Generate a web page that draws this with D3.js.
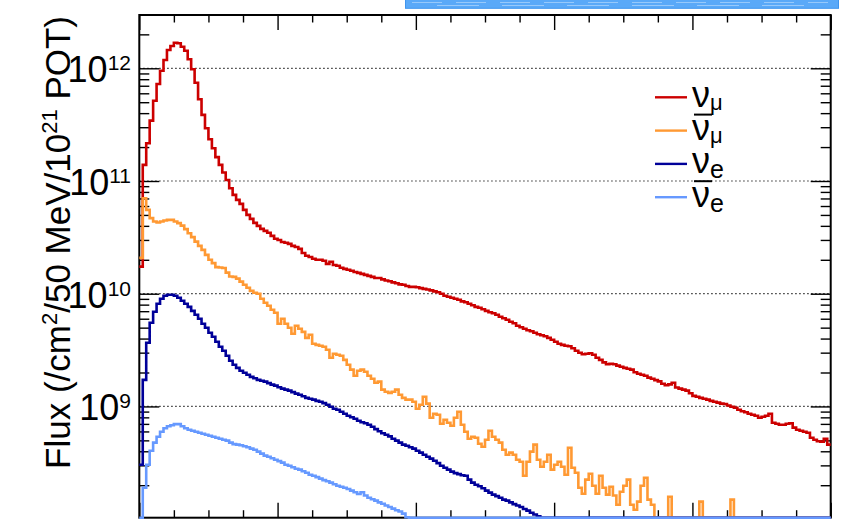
<!DOCTYPE html>
<html>
<head>
<meta charset="utf-8">
<script src="https://cdn.jsdelivr.net/npm/d3@7"></script>
<style>
  body { margin: 0; background: #fff; }
  svg { display: block; font-family: "Liberation Sans", Arial, Helvetica, sans-serif; }
</style>
</head>
<body>
<svg id="chart" width="847" height="523"></svg>
<script>
// Neutrino flux per 50 MeV bin, 0-10 GeV (200 bins), in units of 1e9 /cm2/1e21 POT.
// A value of 0 means the bin sits below the plot floor.
var UNIT = 1e9;
var BIN_WIDTH = 0.05; // GeV

var numu = [
  17.4, 139, 216, 343, 516, 726, 952, 1185, 1453, 1576,
  1686, 1666, 1554, 1432, 1202, 980, 745, 531, 386, 294,
  235, 195, 163, 139, 119, 102, 86.3, 75.3, 68.0, 62.7,
  55.4, 50.1, 46.1, 42.5, 40.0, 37.6, 36.1, 34.7, 32.6, 30.7,
  30.0, 28.8, 28.3, 27.7, 26.6, 26.0, 25.0, 23.0, 21.7, 21.2,
  20.4, 20.0, 20.0, 19.6, 18.4, 19.2, 18.0, 17.7, 17.0, 16.6,
  16.3, 16.0, 15.6, 15.3, 15.0, 14.7, 14.4, 14.1, 13.8, 13.8,
  13.4, 13.1, 12.9, 12.6, 12.4, 12.1, 12.0, 11.7, 11.5, 11.5,
  11.4, 11.2, 11.05, 10.9, 10.7, 10.5, 10.3, 9.98, 9.58, 9.39,
  9.20, 9.01, 8.83, 8.56, 8.39, 8.14, 7.89, 7.65, 7.50, 7.27,
  7.05, 6.84, 6.70, 6.50, 6.24, 6.05, 5.87, 5.64, 5.47, 5.19,
  5.04, 4.89, 4.74, 4.64, 4.50, 4.37, 4.28, 4.19, 4.06, 3.90,
  3.75, 3.60, 3.52, 3.45, 3.42, 3.28, 3.12, 2.99, 2.90, 2.93,
  2.96, 2.87, 2.70, 2.59, 2.46, 2.37, 2.39, 2.37, 2.30, 2.25,
  2.20, 2.16, 2.12, 2.01, 1.95, 1.91, 1.87, 1.80, 1.76, 1.71,
  1.67, 1.59, 1.54, 1.57, 1.62, 1.47, 1.44, 1.41, 1.38, 1.31,
  1.24, 1.22, 1.19, 1.17, 1.15, 1.12, 1.10, 1.08, 1.06, 1.05,
  1.02, 0.994, 0.974, 0.935, 0.907, 0.888, 0.862, 0.844, 0.827, 0.794,
  0.810, 0.827, 0.862, 0.717, 0.703, 0.688, 0.688, 0.703, 0.710, 0.648,
  0.621, 0.609, 0.597, 0.585, 0.528, 0.507, 0.491, 0.486, 0.517, 0.458
];

var numubar = [
  20.8, 70.4, 55.4, 46.8, 43.7, 42.8, 43.7, 44.6, 45.2, 45.2,
  43.7, 42.3, 40.2, 37.4, 34.4, 31.8, 29.0, 26.6, 24.5, 22.1,
  20.0, 18.7, 17.2, 17.1, 16.9, 15.4, 14.2, 14.1, 13.6, 12.8,
  12.0, 11.3, 10.6, 10.2, 9.98, 9.01, 8.31, 7.81, 7.20, 6.77,
  5.41, 5.99, 5.41, 4.99, 4.41, 5.19, 4.89, 4.59, 4.06, 4.32,
  3.60, 3.52, 3.45, 3.38, 3.18, 2.70, 2.93, 2.87, 2.82, 2.59,
  2.34, 2.12, 1.87, 2.07, 2.12, 2.03, 1.87, 1.76, 1.62, 1.66,
  1.41, 1.35, 1.32, 1.35, 1.41, 1.27, 1.19, 1.15, 1.15, 1.10,
  0.954, 1.035, 1.22, 1.06, 0.794, 0.862, 0.844, 0.703, 0.762, 0.717,
  0.674, 0.794, 0.897, 0.688, 0.597, 0.517, 0.539, 0.528, 0.467, 0.439,
  0.507, 0.609, 0.539, 0.507, 0.477, 0.413, 0.373, 0.389, 0.373, 0.337,
  0.323, 0.243, 0.323, 0.397, 0.458, 0.337, 0.292, 0.323, 0.373, 0.275,
  0.304, 0.323, 0.292, 0.248, 0.430, 0.286, 0.258, 0.190, 0.168, 0.224,
  0.253, 0.198, 0.168, 0.243, 0.190, 0.165, 0.194, 0.162, 0.134, 0.175,
  0.198, 0.224, 0.134, 0.121, 0.143, 0.198, 0.233, 0.149, 0.134, 0,
  0, 0, 0, 0.158, 0, 0, 0, 0, 0, 0,
  0, 0, 0.143, 0, 0, 0, 0, 0, 0, 0,
  0, 0.149, 0, 0, 0, 0, 0, 0, 0, 0,
  0, 0, 0, 0, 0, 0, 0, 0, 0, 0,
  0, 0, 0, 0, 0, 0, 0, 0, 0, 0
];

var nue = [
  0.304, 1.72, 3.67, 5.52, 6.91, 8.14, 9.01, 9.58, 9.78, 9.78,
  9.58, 9.20, 8.65, 8.14, 7.65, 7.05, 6.50, 5.99, 5.41, 4.99,
  4.50, 4.15, 3.75, 3.38, 3.12, 2.82, 2.54, 2.34, 2.20, 2.07,
  1.99, 1.91, 1.83, 1.78, 1.72, 1.69, 1.66, 1.61, 1.56, 1.53,
  1.48, 1.44, 1.41, 1.38, 1.34, 1.30, 1.27, 1.23, 1.19, 1.17,
  1.15, 1.12, 1.10, 1.07, 1.035, 0.994, 0.954, 0.935, 0.897, 0.862,
  0.827, 0.802, 0.778, 0.747, 0.724, 0.710, 0.688, 0.661, 0.629, 0.603,
  0.579, 0.561, 0.542, 0.517, 0.497, 0.477, 0.458, 0.448, 0.435, 0.422,
  0.405, 0.389, 0.373, 0.358, 0.344, 0.330, 0.314, 0.298, 0.286, 0.275,
  0.264, 0.256, 0.251, 0.245, 0.243, 0.224, 0.211, 0.202, 0.196, 0.188,
  0.179, 0.172, 0.165, 0.160, 0.155, 0.149, 0.146, 0.141, 0.136, 0.132,
  0.128, 0.123, 0.119, 0.114, 0.110, 0.106, 0.102, 0, 0, 0,
  0, 0, 0, 0, 0, 0, 0, 0, 0, 0,
  0, 0, 0, 0, 0, 0, 0, 0, 0, 0,
  0, 0, 0, 0, 0, 0, 0, 0, 0, 0,
  0, 0, 0, 0, 0, 0, 0, 0, 0, 0,
  0, 0, 0, 0, 0, 0, 0, 0, 0, 0,
  0, 0, 0, 0, 0, 0, 0, 0, 0, 0,
  0, 0, 0, 0, 0, 0, 0, 0, 0, 0,
  0, 0, 0, 0, 0, 0, 0, 0, 0, 0
];

var nuebar = [
  0.1, 0.190, 0.304, 0.405, 0.477, 0.539, 0.597, 0.641, 0.668, 0.681,
  0.696, 0.696, 0.668, 0.641, 0.621, 0.609, 0.597, 0.585, 0.573, 0.561,
  0.550, 0.539, 0.528, 0.517, 0.507, 0.497, 0.477, 0.463, 0.458, 0.453,
  0.444, 0.435, 0.422, 0.413, 0.397, 0.381, 0.366, 0.358, 0.347, 0.337,
  0.327, 0.317, 0.304, 0.298, 0.289, 0.280, 0.275, 0.266, 0.258, 0.248,
  0.243, 0.236, 0.229, 0.222, 0.217, 0.211, 0.204, 0.198, 0.194, 0.190,
  0.185, 0.179, 0.173, 0.167, 0.173, 0.162, 0.155, 0.150, 0.146, 0.141,
  0.137, 0.132, 0.128, 0.124, 0.120, 0.117, 0.112, 0.104, 0, 0,
  0, 0, 0, 0, 0, 0, 0, 0, 0, 0,
  0, 0, 0, 0, 0, 0, 0, 0, 0, 0,
  0, 0, 0, 0, 0, 0, 0, 0, 0, 0,
  0, 0, 0, 0, 0, 0, 0, 0, 0, 0,
  0, 0, 0, 0, 0, 0, 0, 0, 0, 0,
  0, 0, 0, 0, 0, 0, 0, 0, 0, 0,
  0, 0, 0, 0, 0, 0, 0, 0, 0, 0,
  0, 0, 0, 0, 0, 0, 0, 0, 0, 0,
  0, 0, 0, 0, 0, 0, 0, 0, 0, 0,
  0, 0, 0, 0, 0, 0, 0, 0, 0, 0,
  0, 0, 0, 0, 0, 0, 0, 0, 0, 0,
  0, 0, 0, 0, 0, 0, 0, 0, 0, 0
];

var seriesNames = ['numu', 'numubar', 'nue', 'nuebar'];
var seriesValues = [numu, numubar, nue, nuebar];
var seriesColors = ['#cc0000', '#ff9933', '#000099', '#6699ff'];
var legendSubs = ['\u03bc', '\u03bc', 'e', 'e'];
var legendBars = [false, true, false, true];

var xMajorTicks = [0, 2, 4, 6, 8, 10];
var yDecades = [9, 10, 11, 12];

// Layout
var frame = { left: 139.3, right: 830.7, top: 15, bottom: 517.7 };
var svg = d3.select('#chart');

var x = d3.scaleLinear().domain([0, 10]).range([frame.left, frame.right]);
var y = d3.scaleLog().domain([1.03e8, 2.97e12]).range([frame.bottom, frame.top]);
var yFloor = y.domain()[0];
function yc(v) { return v > yFloor ? y(v) : frame.bottom; }

// Blue strip at the top (cropped highlight of the original page)
svg.append('rect')
    .attr('x', 405.5).attr('y', -2)
    .attr('width', 433).attr('height', 10.3)
    .attr('fill', '#5aa9f8')
    .attr('stroke', '#3f95ee')
    .attr('stroke-width', 1);
[2.5, 5.5].forEach(function (yy, k) {
    svg.append('line')
        .attr('x1', 412 + k * 25).attr('x2', 828 - k * 20)
        .attr('y1', yy).attr('y2', yy)
        .attr('stroke', '#d6eafe')
        .attr('stroke-opacity', 0.55)
        .attr('stroke-width', 0.9)
        .attr('stroke-dasharray', (30 + k * 12) + ',' + (14 + k * 9));
});

// Dotted grid at decades
svg.append('g').selectAll('line')
    .data(yDecades)
    .enter()
    .append('line')
    .attr('x1', frame.left).attr('x2', frame.right)
    .attr('y1', function (p) { return y(Math.pow(10, p)); })
    .attr('y2', function (p) { return y(Math.pow(10, p)); })
    .attr('stroke', '#111')
    .attr('stroke-width', 1.2)
    .attr('stroke-dasharray', '1.3,2.7');

// Frame
svg.append('rect')
    .attr('x', frame.left).attr('y', frame.top)
    .attr('width', frame.right - frame.left)
    .attr('height', frame.bottom - frame.top)
    .attr('fill', 'none')
    .attr('stroke', '#000')
    .attr('stroke-width', 2);

// Ticks (inside the frame on all four sides, no labels on x)
var xMinorTicks = d3.range(0, 10.001, 0.5).filter(function (v) { return v % 2 !== 0; });
var yMinorTicks = [];
[8, 9, 10, 11, 12].forEach(function (p) {
    for (var m = 2; m <= 9; m++) {
        var v = m * Math.pow(10, p);
        if (v > y.domain()[0] && v < y.domain()[1]) yMinorTicks.push(v);
    }
});
var yMajorTicks = yDecades.map(function (p) { return Math.pow(10, p); });

function drawAxis(axis, tx, ty) {
    var g = svg.append('g')
        .attr('transform', 'translate(' + tx + ',' + ty + ')')
        .call(axis.tickFormat(''));
    g.select('.domain').remove();
    g.selectAll('.tick line').attr('stroke', '#000').attr('stroke-width', 1.4);
}
drawAxis(d3.axisBottom(x).tickValues(xMajorTicks).tickSize(-15), 0, frame.bottom);
drawAxis(d3.axisBottom(x).tickValues(xMinorTicks).tickSize(-7.5), 0, frame.bottom);
drawAxis(d3.axisTop(x).tickValues(xMajorTicks).tickSize(-15), 0, frame.top);
drawAxis(d3.axisTop(x).tickValues(xMinorTicks).tickSize(-7.5), 0, frame.top);
drawAxis(d3.axisLeft(y).tickValues(yMajorTicks).tickSize(-20), frame.left, 0);
drawAxis(d3.axisLeft(y).tickValues(yMinorTicks).tickSize(-10), frame.left, 0);
drawAxis(d3.axisRight(y).tickValues(yMajorTicks).tickSize(-20), frame.right, 0);
drawAxis(d3.axisRight(y).tickValues(yMinorTicks).tickSize(-10), frame.right, 0);

// Y tick labels: 10^n
var yLabels = svg.append('g');
yDecades.forEach(function (p) {
    var t = yLabels.append('text')
        .attr('x', 131)
        .attr('y', y(Math.pow(10, p)) + 14)
        .attr('text-anchor', 'end')
        .attr('fill', '#000')
        .style('font-size', '36px');
    t.append('tspan').text('10');
    t.append('tspan').attr('dy', -12).style('font-size', '21px').text(p);
});

// Y title
var title = svg.append('text')
    .attr('transform', 'translate(70,16) rotate(-90)')
    .attr('text-anchor', 'end')
    .attr('fill', '#000')
    .style('font-size', '35px');
title.append('tspan').text('Flux (/cm');
title.append('tspan').attr('dy', -13).style('font-size', '22px').text('2');
title.append('tspan').attr('dy', 13).text('/50 MeV/10');
title.append('tspan').attr('dy', -13).style('font-size', '22px').text('21');
title.append('tspan').attr('dy', 13).text(' POT)');

// Histograms as step lines
var step = d3.line()
    .x(function (d) { return x(d[0]); })
    .y(function (d) { return yc(d[1] * UNIT); })
    .curve(d3.curveStepAfter);

var histGroup = svg.append('g').attr('fill', 'none');
seriesValues.forEach(function (vals, s) {
    var pts = vals.map(function (v, i) { return [i * BIN_WIDTH, v]; });
    pts.push([vals.length * BIN_WIDTH, vals[vals.length - 1]]);
    histGroup.append('path')
        .attr('class', seriesNames[s])
        .attr('d', step(pts))
        .attr('stroke', seriesColors[s])
        .attr('stroke-width', 2.6)
        .attr('stroke-linejoin', 'miter');
});

// Legend
var legend = svg.append('g');
seriesNames.forEach(function (name, i) {
    var ly = 97.3 + i * 33.3;
    legend.append('line')
        .attr('x1', 655).attr('x2', 687)
        .attr('y1', ly).attr('y2', ly)
        .attr('stroke', seriesColors[i])
        .attr('stroke-width', 2.4);
    var t = legend.append('text')
        .attr('x', 692)
        .attr('y', ly + 9.5)
        .attr('fill', '#000')
        .style('font-size', '36px');
    t.append('tspan').text('\u03bd');
    t.append('tspan')
        .attr('dy', legendSubs[i] === 'e' ? 5 : 3)
        .style('font-size', legendSubs[i] === 'e' ? '25px' : '22px')
        .text(legendSubs[i]);
    if (legendBars[i]) {
        legend.append('line')
            .attr('x1', 694).attr('x2', 712)
            .attr('y1', ly - 16).attr('y2', ly - 16)
            .attr('stroke', '#000')
            .attr('stroke-width', 2);
    }
});
</script>
</body>
</html>
